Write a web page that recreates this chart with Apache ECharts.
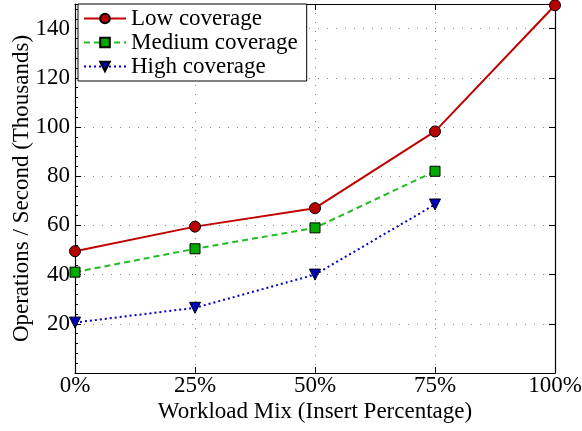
<!DOCTYPE html>
<html>
<head>
<meta charset="utf-8">
<script src="https://cdn.jsdelivr.net/npm/echarts@6/dist/echarts.min.js"></script>
<style>html,body{margin:0;padding:0;background:#fff}#c{width:582px;height:431px}</style>
</head>
<body>
<div id="c"></div>
<script>
const xValues = [0, 25, 50, 75, 100];
const lowCoverage = [49.5, 59.5, 67, 98.2, 149.5];
const mediumCoverage = [41, 50.5, 59, 82];
const highCoverage = [20.5, 26.5, 40, 68.5];
const seriesNames = ['Low coverage', 'Medium coverage', 'High coverage'];
const xTitle = 'Workload Mix (Insert Percentage)';
const yTitle = 'Operations / Second (Thousands)';

const font = 'Liberation Serif';
const fs = 23;
function pairs(vals){ return vals.map((v,i)=>[xValues[i], v]); }

const chart = echarts.init(document.getElementById('c'), null, {renderer:'canvas'});
const gridLine = {show:true, lineStyle:{color:'#888', type:[1,8], width:1}};
chart.setOption({
  animation:false,
  backgroundColor:'#fff',
  grid:{left:75, right:27, top:4, bottom:58, containLabel:false, outerBoundsMode:'none'},
  legend:{
    orient:'vertical', left:78, top:4,
    backgroundColor:'#fff', borderColor:'#000', borderWidth:1, borderRadius:0,
    padding:[3,9,3,5], itemGap:1, itemWidth:42, itemHeight:12,
    textStyle:{fontFamily:font, fontSize:fs, color:'#000', lineHeight:23},
    data: seriesNames
  },
  xAxis:[{
    type:'value', min:0, max:100, interval:25,
    name:xTitle, nameLocation:'middle', nameGap:27, nameMoveOverlap:false,
    nameTextStyle:{fontFamily:font, fontSize:fs, color:'#000'},
    axisLine:{show:true, onZero:false, lineStyle:{color:'#000', width:1.2}},
    axisTick:{show:true, inside:true, length:6, lineStyle:{color:'#000'}},
    axisLabel:{formatter:'{value}%', fontFamily:font, fontSize:fs, color:'#000', margin:1},
    splitLine:gridLine
  },{
    type:'value', min:0, max:100, interval:25, position:'top',
    axisLine:{show:true, onZero:false, lineStyle:{color:'#000', width:1.2}},
    axisTick:{show:true, inside:true, length:6, lineStyle:{color:'#000'}},
    axisLabel:{show:false}, splitLine:{show:false}
  }],
  yAxis:[{
    type:'value', min:0, max:150, interval:20,
    name:yTitle, nameLocation:'middle', nameGap:42, nameRotate:90, nameMoveOverlap:false,
    nameTextStyle:{fontFamily:font, fontSize:fs, color:'#000'},
    axisLine:{show:true, onZero:false, lineStyle:{color:'#000', width:1.2}},
    axisTick:{show:true, inside:true, length:6, lineStyle:{color:'#000'}},
    minorTick:{show:true, splitNumber:5, length:3, lineStyle:{color:'#000'}},
    axisLabel:{fontFamily:font, fontSize:fs, color:'#000', margin:5,
      formatter:v=> (v>0 && v%20===0) ? String(v) : ''},
    splitLine:gridLine
  },{
    type:'value', min:0, max:150, interval:20, position:'right',
    axisLine:{show:true, onZero:false, lineStyle:{color:'#000', width:1.2}},
    axisTick:{show:true, inside:true, length:6, lineStyle:{color:'#000'}},
    axisLabel:{show:false}, splitLine:{show:false}
  }],
  series:[{
    name:seriesNames[0], type:'line', data:pairs(lowCoverage), clip:true,
    symbol:'circle', symbolSize:11,
    lineStyle:{color:'#c00000', width:2},
    itemStyle:{color:'#b80000', borderColor:'#000', borderWidth:1}
  },{
    name:seriesNames[1], type:'line', data:pairs(mediumCoverage), clip:true,
    symbol:'rect', symbolSize:10,
    lineStyle:{color:'#22bb22', width:2, type:[6,4]},
    itemStyle:{color:'#00aa00', borderColor:'#000', borderWidth:1}
  },{
    name:seriesNames[2], type:'line', data:pairs(highCoverage), clip:true,
    symbol:'triangle', symbolSize:11, symbolRotate:180,
    lineStyle:{color:'#0000cc', width:2, type:[2,3]},
    itemStyle:{color:'#0000bb', borderColor:'#000', borderWidth:1}
  }]
});
</script>
</body>
</html>
